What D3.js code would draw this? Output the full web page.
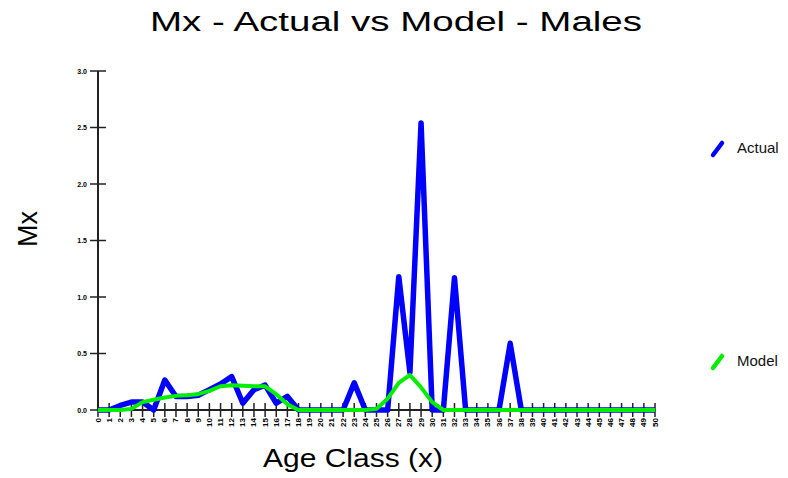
<!DOCTYPE html>
<html>
<head>
  <meta charset="utf-8"/>
  <title>Mx - Actual vs Model - Males</title>
  <script src="https://cdn.jsdelivr.net/npm/d3@7/dist/d3.min.js"></script>
  <style>
    html,body { margin:0; padding:0; background:#fff; overflow:hidden; }
    svg { display:block; font-family:"Liberation Sans", Arial, sans-serif; }
  </style>
</head>
<body>
  <svg width="788" height="478"></svg>
  <script>
  // data
  const ages = d3.range(0, 51);
  const actual = [0,0,0.04,0.07,0.07,0,0.265,0.12,0.12,0.13,
                  0.18,0.23,0.295,0.06,0.18,0.22,0.06,0.12,0,0,
                  0,0,0,0.24,0,0,0,1.18,0.33,2.54,
                  0,0,1.17,0,0,0,0,0.59,0,0,
                  0,0,0,0,0,0,0,0,0,0,0];
  const model  = [0,0,0,0.01,0.07,0.09,0.11,0.125,0.13,0.14,
                  0.17,0.21,0.22,0.215,0.21,0.21,0.14,0.05,0,0,
                  0,0,0,0,0,0.01,0.1,0.24,0.31,0.2,
                  0.07,0,0,0,0,0,0,0,0,0,
                  0,0,0,0,0,0,0,0,0,0,0];
  const yTicks = [0,0.5,1,1.5,2,2.5,3];
  const series = [
    {name:"Actual", values:actual, color:"#0000ff", width:5.5, ly:148},
    {name:"Model",  values:model,  color:"#00ee00", width:4, ly:361}
  ];

  const svg = d3.select("svg");
  const x = d3.scaleLinear().domain([0,50]).range([98,655]);
  const y = d3.scaleLinear().domain([0,3]).range([410,71]);

  // axes
  const gx = svg.append("g").attr("transform","translate(0,410)");
  gx.append("line").attr("x1",x(0)).attr("x2",x(50)).attr("stroke","#222").attr("stroke-width",2);
  gx.selectAll("line.t").data(ages).join("line").attr("class","t")
    .attr("x1",d=>x(d)).attr("x2",d=>x(d)).attr("y1",-7).attr("y2",7)
    .attr("stroke","#222").attr("stroke-width",1.5);
  gx.selectAll("text").data(ages).join("text")
    .attr("transform",d=>`translate(${x(d)+2.5},${8}) rotate(-90)`)
    .attr("text-anchor","end")
    .attr("font-size",8).attr("font-weight","bold")
    .text(d=>d);

  const gy = svg.append("g").attr("transform","translate(98,0)");
  gy.append("line").attr("y1",y(0)).attr("y2",y(3)).attr("stroke","#222").attr("stroke-width",2);
  gy.selectAll("line.t").data(yTicks).join("line").attr("class","t")
    .attr("y1",d=>y(d)).attr("y2",d=>y(d)).attr("x1",-8).attr("x2",8)
    .attr("stroke","#222").attr("stroke-width",1.5);
  gy.selectAll("text").data(yTicks).join("text")
    .attr("x",-11).attr("y",d=>y(d)+2.5)
    .attr("text-anchor","end")
    .attr("font-size",7).attr("font-weight","bold")
    .text(d=>d.toFixed(1));

  // lines
  const line = d3.line().x((d,i)=>x(ages[i])).y(d=>y(d));
  series.forEach(s=>{
    svg.append("path").datum(s.values)
      .attr("d",line)
      .attr("fill","none")
      .attr("stroke",s.color)
      .attr("stroke-width",s.width)
      .attr("stroke-linejoin","round");
  });

  // legend
  series.forEach(s=>{
    svg.append("line")
      .attr("x1",713).attr("y1",s.ly+7).attr("x2",722).attr("y2",s.ly-5)
      .attr("stroke",s.color).attr("stroke-width",4.5).attr("stroke-linecap","round");
    svg.append("text").attr("x",737).attr("y",s.ly+5)
      .attr("font-size",15).attr("fill","#111").text(s.name);
  });

  // titles
  svg.append("text").attr("x",150).attr("y",31)
    .attr("font-size",27).attr("textLength",492).attr("lengthAdjust","spacingAndGlyphs")
    .text("Mx - Actual vs Model - Males");
  svg.append("text").attr("x",263).attr("y",467)
    .attr("font-size",26).attr("textLength",180).attr("lengthAdjust","spacingAndGlyphs")
    .text("Age Class (x)");
  svg.append("text").attr("transform","translate(37,229) rotate(-90)")
    .attr("text-anchor","middle").attr("font-size",27).text("Mx");
  </script>
</body>
</html>
